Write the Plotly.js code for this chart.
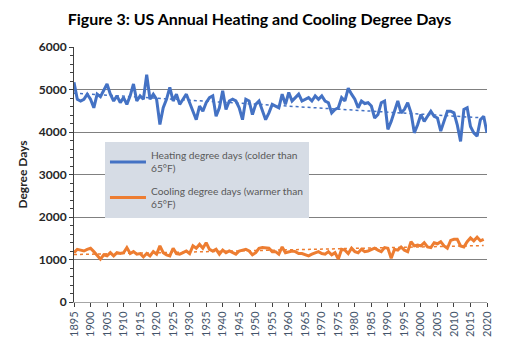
<!DOCTYPE html>
<html>
<head>
<meta charset="utf-8">
<script src="https://cdn.plot.ly/plotly-3.0.1.min.js"></script>
<style>html,body{margin:0;padding:0;background:#fff}#chart{width:519px;height:354px}</style>
</head>
<body>
<div id="chart"></div>
<script>
// Years 1895..2020
var startYear = 1895;
var heating = [
5170,4770,4730,4770,4890,4770,4570,4890,4830,4970,
5130,4890,4730,4850,4690,4810,4650,4850,5130,4730,
4850,4770,5350,4770,4890,4770,4175,4570,4770,5050,
4730,4890,4650,4770,4890,4690,4490,4290,4610,4490,
4690,4810,4850,4370,4570,4970,4530,4730,4770,4730,
4570,4290,4770,4730,4410,4650,4730,4530,4290,4450,
4650,4610,4570,4890,4650,4930,4730,4810,4890,4730,
4770,4810,4730,4850,4770,4850,4730,4690,4450,4530,
4570,4810,4730,5030,4890,4770,4570,4730,4670,4690,
4610,4330,4410,4690,4730,4060,4250,4490,4730,4450,
4530,4690,4450,3980,4170,4410,4250,4370,4490,4370,
4330,4020,4250,4490,4490,4450,4170,3780,4530,4570,
4130,3980,3900,4290,4370,3980
];
var cooling = [
1160,1240,1220,1200,1240,1265,1185,1085,1010,1110,
1085,1160,1085,1160,1140,1160,1280,1140,1185,1125,
1140,1060,1140,1085,1185,1125,1320,1160,1110,1085,
1265,1140,1125,1160,1200,1140,1320,1265,1355,1265,
1395,1240,1200,1240,1125,1220,1160,1200,1160,1125,
1200,1220,1240,1200,1110,1160,1265,1280,1280,1265,
1185,1185,1125,1295,1160,1185,1200,1185,1140,1140,
1110,1085,1125,1160,1185,1140,1125,1185,1110,1160,
1010,1240,1220,1140,1265,1185,1160,1240,1185,1200,
1240,1265,1220,1185,1280,1265,1030,1240,1220,1295,
1220,1185,1420,1320,1340,1320,1395,1295,1280,1395,
1370,1420,1320,1265,1450,1475,1475,1320,1295,1420,
1510,1440,1525,1440,1475
];
var heatingName = "Heating degree days (colder than<br>65°F)";
var coolingName = "Cooling degree days (warmer than<br>65°F)";

var years = heating.map(function(_, i){ return startYear + i; });
var yearsC = cooling.map(function(_, i){ return startYear + i; });

function trend(xs, ys){
  var n = xs.length, sx=0, sy=0, sxx=0, sxy=0;
  for (var i=0;i<n;i++){ sx+=xs[i]; sy+=ys[i]; sxx+=xs[i]*xs[i]; sxy+=xs[i]*ys[i]; }
  var b = (n*sxy - sx*sy)/(n*sxx - sx*sx);
  var a = (sy - b*sx)/n;
  return xs.map(function(x){ return a + b*x; });
}

var blue = '#4472c4', orange = '#ed7d31';
var data = [
  {x: years, y: trend(years, heating), mode:'lines', line:{color:blue, width:1.5, dash:'dot'}, showlegend:false, hoverinfo:'skip'},
  {x: yearsC, y: trend(yearsC, cooling), mode:'lines', line:{color:orange, width:1.5, dash:'dot'}, showlegend:false, hoverinfo:'skip'},
  {x: years, y: heating, mode:'lines', name: heatingName, legendgroup:'h', line:{color:blue, width:3}},
  {x: yearsC, y: cooling, mode:'lines', name: coolingName, legendgroup:'c', line:{color:orange, width:3}}
];

var layout = {
  width: 519, height: 354,
  margin: {l:74, r:32, t:47, b:52},
  paper_bgcolor:'#ffffff', plot_bgcolor:'#ffffff',
  font: {family:'Lato, "Open Sans", sans-serif', color:'#404040'},
  title: {text:'<b>Figure 3: US Annual Heating and Cooling Degree Days</b>', x:0.5, xanchor:'center', y:0.945, yanchor:'middle',
          font:{family:'Lato, sans-serif', size:16, color:'#000000'}},
  xaxis: {
    range:[1895, 2020], tickmode:'linear', tick0:1895, dtick:5,
    tickangle:-90, tickfont:{size:11, color:'#44546a'},
    showgrid:false, zeroline:false, showline:true, linecolor:'#a6a6a6', linewidth:1,
    ticks:'outside', ticklen:4, tickcolor:'#404040'
  },
  yaxis: {
    range:[0, 6000], tickmode:'linear', tick0:0, dtick:1000,
    tickfont:{size:12, color:'#262626'}, tickprefix:'<b>', ticksuffix:'</b>',
    showgrid:true, gridcolor:'#808080', gridwidth:1, zeroline:false,
    showline:true, linecolor:'#404040', linewidth:1,
    ticks:'outside', ticklen:4, tickcolor:'#404040',
    minor:{dtick:200, ticks:'outside', ticklen:3, tickcolor:'#404040', showgrid:false},
    title:{text:'<b>Degree Days</b>', font:{size:12, color:'#262626'}, standoff:8}
  },
  legend: {
    x:0.075, y:0.627, xanchor:'left', yanchor:'top',
    bgcolor:'#d6dce5', borderwidth:0,
    font:{size:10.2, color:'#595959'},
    itemwidth:36, tracegroupgap:6
  },
  showlegend:true
};

Plotly.newPlot('chart', data, layout, {displayModeBar:false, staticPlot:true});
</script>
</body>
</html>
